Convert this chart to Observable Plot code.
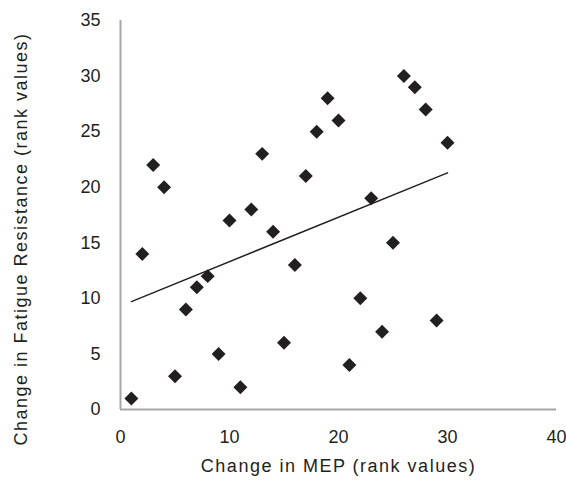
<!DOCTYPE html>
<html>
<head>
<meta charset="utf-8">
<script src="https://cdn.jsdelivr.net/npm/d3@7"></script>
<script src="https://cdn.jsdelivr.net/npm/@observablehq/plot@0.6"></script>
<style>
  html, body { margin: 0; padding: 0; background: #fff; }
  svg { display: block; }
</style>
</head>
<body>
<div id="chart"></div>
<script>
const mepRank = [1,2,3,4,5,6,7,8,9,10,11,12,13,14,15,16,17,18,19,20,21,22,23,24,25,26,27,28,29,30];
const fatigueRank = [1,14,22,20,3,9,11,12,5,17,2,18,23,16,6,13,21,25,28,26,4,10,19,7,15,30,29,27,8,24];
const xTicks = [0,10,20,30,40];
const yTicks = [0,5,10,15,20,25,30,35];
const xTitle = "Change in MEP (rank values)";
const yTitle = "Change in Fatigue Resistance (rank values)";

const data = mepRank.map((x, i) => ({x, y: fatigueRank[i]}));

const font = "'Liberation Sans', Arial, sans-serif";

const chart = Plot.plot({
  width: 566,
  height: 480,
  marginLeft: 120,
  marginRight: 10,
  marginTop: 20,
  marginBottom: 71,
  style: {fontFamily: font, fontSize: "18px", color: "#231f20", background: "#fff"},
  x: {domain: [0, 40], ticks: xTicks, tickSize: 0, tickPadding: 21, label: null},
  y: {domain: [0, 35], ticks: yTicks, tickSize: 0, tickPadding: 20, label: null},
  marks: [
    Plot.ruleY([0], {stroke: "#a6a6a6", strokeWidth: 2}),
    Plot.ruleX([0], {stroke: "#a6a6a6", strokeWidth: 2}),
    Plot.linearRegressionY(data, {x: "x", y: "y", ci: 0, stroke: "#231f20", strokeWidth: 1.5}),
    Plot.dot(data, {x: "x", y: "y", symbol: "diamond2", r: 6.3, fill: "#231f20", stroke: "none"}),
    Plot.text([xTitle], {frameAnchor: "bottom", text: d => d, textAnchor: "middle", dy: 62, lineAnchor: "bottom", fontSize: 18, fill: "#231f20"}),
    Plot.text([yTitle], {frameAnchor: "left", text: d => d, textAnchor: "middle", rotate: -90, dx: -99, dy: 24, lineAnchor: "middle", fontSize: 18, fill: "#231f20"})
  ]
});

d3.select(chart).selectAll("text")
  .filter(function() { return this.textContent === xTitle; })
  .attr("letter-spacing", "1.5px");
d3.select(chart).selectAll("text")
  .filter(function() { return this.textContent === yTitle; })
  .attr("letter-spacing", "1.5px");
document.getElementById("chart").appendChild(chart);
</script>
</body>
</html>
